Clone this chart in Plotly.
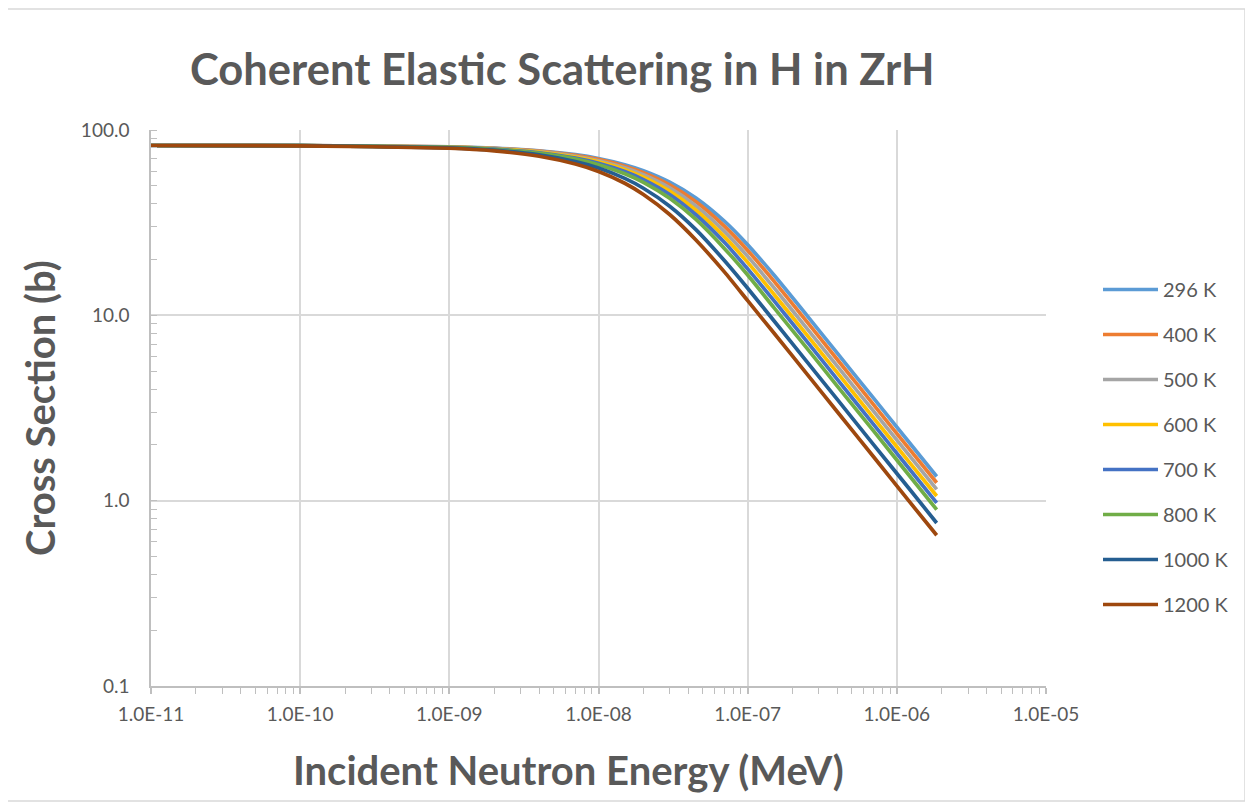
import plotly.graph_objects as go

# Incident neutron energy (MeV)
energy = [1e-11, 1e-10, 1e-9, 2e-9, 4e-9, 7e-9, 1e-8, 1.5e-8, 2e-8, 3e-8, 4.5e-8,
          7e-8, 1e-7, 1.5e-7, 2.5e-7, 4e-7, 7e-7, 1.2e-6, 1.85e-6]

xs_296 = [82.5, 82.4, 81.2, 79.8, 77.3, 73.6, 70.2, 65.0, 60.3, 52.3, 42.9,
          32.1, 24.0, 16.5, 9.97, 6.23, 3.56, 2.08, 1.35]
xs_400 = [82.5, 82.4, 81.0, 79.6, 76.9, 73.0, 69.4, 63.8, 58.9, 50.6, 41.0,
          30.2, 22.4, 15.3, 9.22, 5.76, 3.29, 1.92, 1.25]
xs_500 = [82.5, 82.3, 80.9, 79.4, 76.4, 72.2, 68.3, 62.5, 57.3, 48.7, 38.9,
          28.3, 20.8, 14.1, 8.48, 5.30, 3.03, 1.77, 1.15]
xs_600 = [82.5, 82.3, 80.8, 79.1, 75.9, 71.4, 67.3, 61.1, 55.7, 46.8, 36.9,
          26.5, 19.3, 13.0, 7.82, 4.89, 2.79, 1.63, 1.06]
xs_700 = [82.5, 82.3, 80.6, 78.8, 75.4, 70.6, 66.2, 59.7, 54.0, 44.9, 34.9,
          24.7, 17.8, 12.0, 7.21, 4.50, 2.57, 1.50, 0.974]
xs_800 = [82.5, 82.3, 80.5, 78.5, 74.8, 69.7, 65.0, 58.1, 52.2, 42.8, 32.9,
          22.9, 16.5, 11.0, 6.63, 4.14, 2.37, 1.38, 0.895]
xs_1000 = [82.5, 82.3, 80.1, 77.8, 73.5, 67.6, 62.4, 54.8, 48.5, 38.8, 29.0,
           19.7, 14.0, 9.35, 5.61, 3.51, 2.00, 1.17, 0.758]
xs_1200 = [82.5, 82.2, 79.7, 77.1, 72.2, 65.5, 59.7, 51.6, 44.9, 35.0, 25.5,
           17.1, 12.0, 8.03, 4.82, 3.01, 1.72, 1.00, 0.651]

series_names = ["296 K", "400 K", "500 K", "600 K", "700 K", "800 K", "1000 K", "1200 K"]
series_values = [xs_296, xs_400, xs_500, xs_600, xs_700, xs_800, xs_1000, xs_1200]
series_colors = ["#5B9BD5", "#ED7D31", "#A5A5A5", "#FFC000", "#4472C4", "#70AD47", "#255E91", "#9E480E"]

x_tickvals = [1e-11, 1e-10, 1e-9, 1e-8, 1e-7, 1e-6, 1e-5]
x_ticktext = ["1.0E-11", "1.0E-10", "1.0E-09", "1.0E-08", "1.0E-07", "1.0E-06", "1.0E-05"]
y_tickvals = [0.1, 1, 10, 100]
y_ticktext = ["0.1", "1.0", "10.0", "100.0"]

TXT = "#595959"
GRID = "#d9d9d9"
AX = "#bfbfbf"

# page offset (browser body margin)
OFF = 8
W, H = 1253 - OFF, 804 - OFF
L, T = 151 - OFF, 130 - OFF
R = W - (1046 - OFF)
B = H - (686 - OFF)
PW, PH = 1046 - 151, 686 - 130


def px(x):
    return (x - 151) / PW


def py(y):
    return (686 - y) / PH


fig = go.Figure()
for name, vals, col in zip(series_names, series_values, series_colors):
    fig.add_trace(go.Scatter(
        x=energy, y=vals, name=name, mode="lines",
        line=dict(color=col, width=3.7, shape="spline", smoothing=0.6),
        legendgroup=name,
    ))

fig.update_layout(
    width=W, height=H,
    margin=dict(l=L, r=R, t=T, b=B),
    paper_bgcolor="white", plot_bgcolor="white",
    font=dict(family="Lato", color=TXT, size=19),
    showlegend=True,
    legend=dict(x=px(1098), xanchor="left", y=py(447), yanchor="middle",
                font=dict(size=20, color=TXT, family="Lato"),
                tracegroupgap=16, itemwidth=55, bgcolor="rgba(0,0,0,0)"),
    annotations=[
        dict(text="<b>Coherent Elastic Scattering in H in ZrH</b>", xref="paper", yref="paper",
             x=px(562), y=py(68), xanchor="center", yanchor="middle",
             showarrow=False, font=dict(size=43.5, color=TXT, family="Lato")),
        dict(text="<b>Incident Neutron Energy (MeV)</b>", xref="paper", yref="paper",
             x=px(568), y=py(770), xanchor="center", yanchor="middle",
             showarrow=False, font=dict(size=40, color=TXT, family="Lato")),
        dict(text="<b>Cross Section (b)</b>", xref="paper", yref="paper",
             x=px(40), y=py(408), xanchor="center", yanchor="middle", textangle=-90,
             showarrow=False, font=dict(size=40, color=TXT, family="Lato")),
    ],
    shapes=[
        dict(type="rect", xref="paper", yref="paper",
             x0=px(7), x1=px(1245), y0=py(801), y1=py(9),
             line=dict(color=GRID, width=1.5), fillcolor="rgba(0,0,0,0)", layer="below"),
    ],
)

fig.update_xaxes(
    type="log", range=[-11, -5],
    tickvals=x_tickvals, ticktext=x_ticktext,
    showgrid=True, gridcolor=GRID, gridwidth=1.5,
    showline=True, linecolor=AX, linewidth=1.5,
    ticks="outside", ticklen=6, tickcolor=AX, tickwidth=1.5,
    minor=dict(ticks="outside", ticklen=6, tickcolor=AX, tickwidth=1.2, showgrid=False, dtick="D1"),
    tickfont=dict(size=19, color=TXT, family="Lato"),
    ticklabelstandoff=4,
    zeroline=False, mirror=False,
)
fig.update_yaxes(
    type="log", range=[-1, 2],
    tickvals=y_tickvals, ticktext=y_ticktext,
    showgrid=True, gridcolor=GRID, gridwidth=1.5,
    showline=True, linecolor=AX, linewidth=1.5,
    ticks="",
    minor=dict(ticks="inside", ticklen=6, tickcolor=AX, tickwidth=1.2, showgrid=False, dtick="D1"),
    tickfont=dict(size=19, color=TXT, family="Lato"),
    ticklabelstandoff=16,
    zeroline=False,
)

fig.write_html("out.html")
